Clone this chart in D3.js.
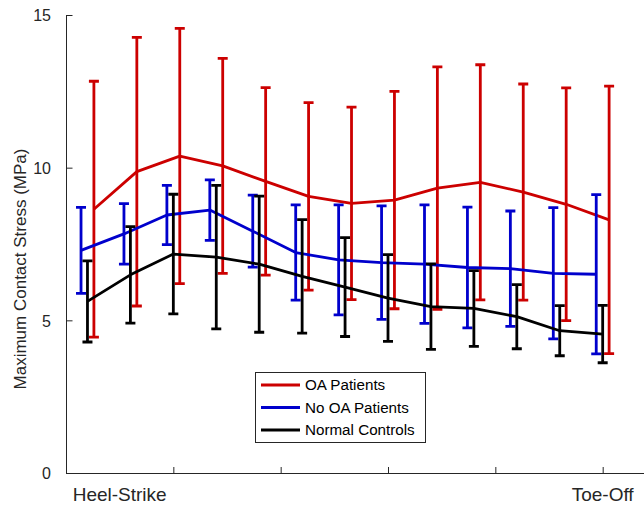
<!DOCTYPE html>
<html>
<head>
<meta charset="utf-8">
<script src="https://cdn.jsdelivr.net/npm/d3@7"></script>
<style>
  html, body { margin: 0; padding: 0; background: #fff; }
  svg { display: block; font-family: "Liberation Sans", Arial, Helvetica, sans-serif; }
</style>
</head>
<body>
<svg id="chart" width="644" height="506"></svg>
<script>
// ---- data ----
const phase = [4, 12, 20, 28, 36, 44, 52, 60, 68, 76, 84, 92, 100];
const seriesNames = ["OA Patients", "No OA Patients", "Normal Controls"];
const oaMean   = [8.64, 9.87, 10.38, 10.06, 9.55, 9.06, 8.83, 8.94, 9.33, 9.52, 9.20, 8.80, 8.29];
const oaSD     = [4.19, 4.40, 4.18, 3.52, 3.07, 3.07, 3.15, 3.56, 3.97, 3.85, 3.54, 3.81, 4.38];
const noOaMean = [7.29, 7.83, 8.45, 8.61, 7.92, 7.22, 6.98, 6.89, 6.84, 6.73, 6.69, 6.54, 6.51];
const noOaSD   = [1.41, 0.99, 0.97, 0.99, 1.18, 1.56, 1.80, 1.86, 1.94, 1.98, 1.89, 2.15, 2.61];
const ctrlMean = [5.62, 6.49, 7.17, 7.07, 6.84, 6.44, 6.09, 5.73, 5.45, 5.39, 5.12, 4.66, 4.55];
const ctrlSD   = [1.33, 1.58, 1.96, 2.35, 2.23, 1.86, 1.62, 1.42, 1.40, 1.24, 1.05, 0.82, 0.94];
const yTicks = [0, 5, 10, 15];
const xTickVals = [0, 20, 40, 60, 80, 100];
const xLabels = ["Heel-Strike", "Toe-Off"];
const xLabelAt = [10, 100];

// ---- layout ----
const svg = d3.select("#chart");
const axisColor = "#262626";
const x = d3.scaleLinear().domain([0, 107.7]).range([66, 644]);
const y = d3.scaleLinear().domain([0, 15]).range([473, 15]);

const series = [
  { name: seriesNames[0], mean: oaMean,   sd: oaSD,   color: "#cc0000", dx: 1.2 },
  { name: seriesNames[1], mean: noOaMean, sd: noOaSD, color: "#0000cc", dx: -1.2 },
  { name: seriesNames[2], mean: ctrlMean, sd: ctrlSD, color: "#000000", dx: 0 }
];

// axes
const yAxis = d3.axisLeft(y).tickValues(yTicks).tickSize(-6).tickPadding(15).tickFormat(d3.format("d"));
const gy = svg.append("g").attr("transform", `translate(${x(0)},0)`).call(yAxis);
gy.select(".domain").attr("stroke", axisColor).attr("stroke-width", 1).attr("d", `M0.5,${y(15)}V${y(0)}`);
gy.selectAll(".tick line").attr("stroke", axisColor).attr("transform", "translate(0.5,0)");
gy.selectAll(".tick text").attr("fill", axisColor).style("font-size", "16px").attr("dy", "0.36em");

const xAxis = d3.axisBottom(x).tickValues(xTickVals).tickSize(-6).tickFormat("");
const gx = svg.append("g").attr("transform", `translate(0,${y(0)})`).call(xAxis);
gx.select(".domain").attr("stroke", axisColor).attr("stroke-width", 1).attr("d", `M${x(0)},0.5H644`);
gx.selectAll(".tick line").attr("stroke", axisColor);

xLabels.forEach((t, i) => {
  svg.append("text").attr("x", x(xLabelAt[i])).attr("y", 501)
    .attr("text-anchor", "middle").attr("fill", axisColor).style("font-size", "19px").text(t);
});

svg.append("text")
  .attr("transform", `translate(26,269) rotate(-90)`)
  .attr("text-anchor", "middle").attr("fill", axisColor).style("font-size", "17px")
  .text("Maximum Contact Stress (MPa)");

// series
const lw = 2.8, cap = 5;
series.forEach(s => {
  const g = svg.append("g");
  const pts = phase.map((p, i) => ({ x: p + s.dx, m: s.mean[i], sd: s.sd[i] }));
  g.selectAll("path.bar").data(pts).enter().append("path")
    .attr("fill", "none").attr("stroke", s.color).attr("stroke-width", lw)
    .attr("d", d => {
      const cx = x(d.x), top = y(d.m + d.sd), bot = y(d.m - d.sd);
      return `M${cx},${top}V${bot}M${cx - cap},${top}H${cx + cap}M${cx - cap},${bot}H${cx + cap}`;
    });
  const line = d3.line().x(d => x(d.x)).y(d => y(d.m));
  g.append("path").datum(pts).attr("fill", "none").attr("stroke", s.color)
    .attr("stroke-width", lw).attr("stroke-linejoin", "round").attr("d", line);
});

// legend
const lg = svg.append("g");
lg.append("rect").attr("x", 255.5).attr("y", 372.5).attr("width", 170).attr("height", 70)
  .attr("fill", "#fff").attr("stroke", axisColor).attr("stroke-width", 1);
series.forEach((s, i) => {
  const ry = 385 + i * 22.5;
  lg.append("line").attr("x1", 261).attr("x2", 300).attr("y1", ry).attr("y2", ry)
    .attr("stroke", s.color).attr("stroke-width", lw);
  lg.append("text").attr("x", 305).attr("y", ry).attr("dy", "0.36em")
    .attr("fill", "#000").style("font-size", "15.2px").text(s.name);
});
</script>
</body>
</html>
